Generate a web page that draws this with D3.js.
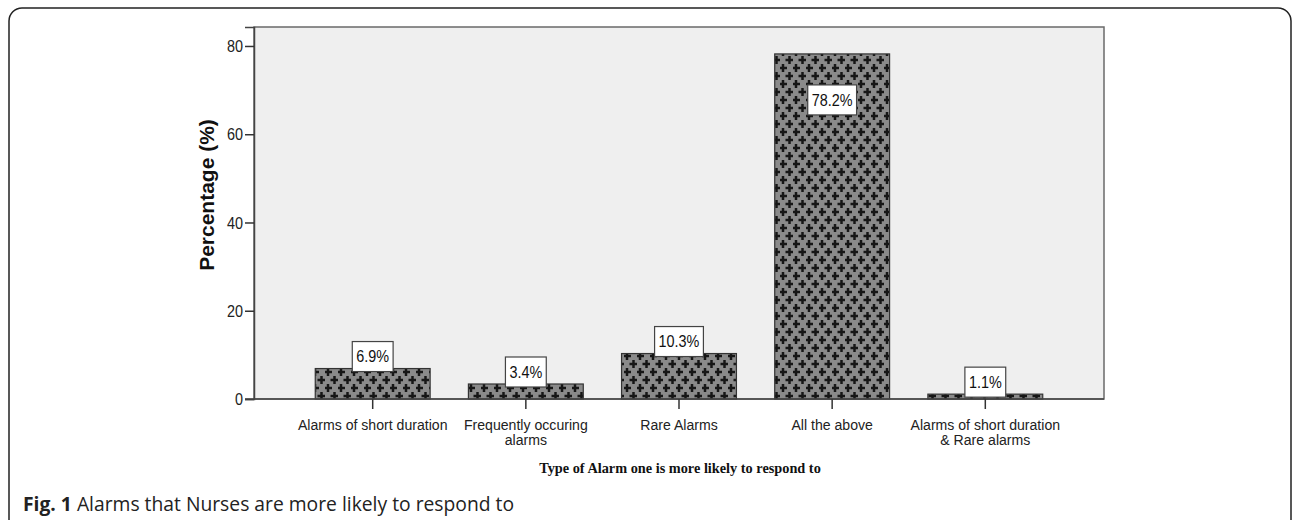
<!DOCTYPE html>
<html>
<head>
<meta charset="utf-8">
<script src="https://cdn.jsdelivr.net/npm/d3@7"></script>
<style>
  body { margin: 0; background: #fff; }
  svg { display: block; }
</style>
</head>
<body>
<div id="chart"></div>
<script>
// data
var categories = ["Alarms of short duration", "Frequently occuring alarms", "Rare Alarms", "All the above", "Alarms of short duration & Rare alarms"];
var labelLines = [["Alarms of short duration"], ["Frequently occuring", "alarms"], ["Rare Alarms"], ["All the above"], ["Alarms of short duration", "& Rare alarms"]];
var values = [6.9, 3.4, 10.3, 78.2, 1.1];
var yTicks = [0, 20, 40, 60, 80];

var W = 1292, H = 520;
var plot = {left: 254, right: 1104, top: 27, bottom: 399};
var narrowFont = "Liberation Sans, Arial, sans-serif";
var squeeze = 0.9; // fake a narrow face

var svg = d3.select("#chart").append("svg").attr("width", W).attr("height", H);

// outer frame
svg.append("rect")
  .attr("x", 9).attr("y", 8).attr("width", 1282).attr("height", 530)
  .attr("rx", 13).attr("ry", 13)
  .attr("fill", "none").attr("stroke", "#222").attr("stroke-width", 1.5);

// cross pattern
var defs = svg.append("defs");
var pat = defs.append("pattern")
  .attr("id", "cross").attr("patternUnits", "userSpaceOnUse")
  .attr("width", 13).attr("height", 16);
pat.append("rect").attr("width", 13).attr("height", 16).attr("fill", "#8a8a8a");
[[3, 4], [9.5, 12]].forEach(function(c) {
  pat.append("rect").attr("x", c[0] - 4).attr("y", c[1] - 1.25).attr("width", 8).attr("height", 2.5).attr("fill", "#161616");
  pat.append("rect").attr("x", c[0] - 1.25).attr("y", c[1] - 4).attr("width", 2.5).attr("height", 8).attr("fill", "#161616");
});

var x = d3.scaleBand().domain(categories)
  .range([plot.left, plot.right])
  .paddingInner(0.25).paddingOuter(0.4);
var y = d3.scaleLinear().domain([0, 84.3]).range([plot.bottom, plot.top]);

// plot background
svg.append("rect")
  .attr("x", plot.left).attr("y", plot.top)
  .attr("width", plot.right - plot.left).attr("height", plot.bottom - plot.top)
  .attr("fill", "#efefef").attr("stroke", "#6a6a6a").attr("stroke-width", 1.5);

// bars
svg.selectAll("rect.bar")
  .data(values)
  .enter().append("rect")
  .attr("class", "bar")
  .attr("x", function(d, i) { return x(categories[i]); })
  .attr("y", function(d) { return y(d); })
  .attr("width", x.bandwidth())
  .attr("height", function(d) { return y(0) - y(d); })
  .attr("fill", "url(#cross)")
  .attr("stroke", "#333").attr("stroke-width", 1.2);

// y axis
var yAxis = svg.append("g")
  .attr("transform", "translate(" + plot.left + ",0)")
  .call(d3.axisLeft(y).tickValues(yTicks).tickSize(9).tickFormat(""));
yAxis.select(".domain").attr("stroke", "#444").attr("stroke-width", 1.5);
yAxis.selectAll(".tick line").attr("stroke", "#333").attr("stroke-width", 1.5);
yAxis.selectAll(".tick").append("text")
  .attr("transform", "translate(-11,0) scale(" + squeeze + ",1)")
  .attr("text-anchor", "end").attr("dy", "0.36em")
  .attr("font-family", narrowFont).attr("font-size", 16).attr("fill", "#222")
  .text(function(d) { return d; });

// x axis
var xAxis = svg.append("g")
  .attr("transform", "translate(0," + plot.bottom + ")")
  .call(d3.axisBottom(x).tickSize(10).tickFormat(""));
xAxis.select(".domain").attr("stroke", "#444").attr("stroke-width", 1.5)
  .attr("d", "M" + (plot.left - 9) + ",0H" + plot.right);
xAxis.selectAll(".tick line").attr("stroke", "#333").attr("stroke-width", 1.5);

// x tick labels, one text per line
labelLines.forEach(function(lines, i) {
  var cx = x(categories[i]) + x.bandwidth() / 2;
  svg.selectAll(null)
    .data(lines)
    .enter().append("text")
    .attr("text-anchor", "middle")
    .attr("font-family", narrowFont).attr("font-size", 15).attr("fill", "#222")
    .attr("transform", function(d, k) {
      return "translate(" + cx + "," + (430 + k * 15) + ") scale(0.94,1)";
    })
    .text(function(d) { return d; });
});

// value labels
var lab = svg.selectAll("g.vlab")
  .data(values)
  .enter().append("g")
  .attr("class", "vlab")
  .attr("transform", function(d, i) {
    var cx = x(categories[i]) + x.bandwidth() / 2;
    var cy = d > 50 ? y(d) + 46 : y(d) - 12;
    return "translate(" + cx + "," + cy + ")";
  });
lab.append("text")
  .attr("transform", "scale(" + squeeze + ",1)")
  .attr("text-anchor", "middle").attr("dy", "0.36em")
  .attr("font-family", narrowFont).attr("font-size", 16).attr("fill", "#111")
  .text(function(d) { return d.toFixed(1) + "%"; });
lab.each(function() {
  var g = d3.select(this);
  var bb = g.select("text").node().getBBox();
  var w = bb.width * squeeze + 8;
  g.insert("rect", "text")
    .attr("x", -w / 2).attr("y", -15)
    .attr("width", w).attr("height", 30)
    .attr("fill", "#fff").attr("stroke", "#444").attr("stroke-width", 1.2);
});

// axis titles
svg.append("text")
  .attr("transform", "translate(214,195) rotate(-90)")
  .attr("text-anchor", "middle")
  .attr("font-family", "Liberation Sans, Arial, sans-serif")
  .attr("font-weight", "bold").attr("font-size", 21).attr("fill", "#111")
  .text("Percentage (%)");

svg.append("text")
  .attr("x", 680).attr("y", 473)
  .attr("text-anchor", "middle")
  .attr("font-family", "Liberation Serif, Times New Roman, serif")
  .attr("font-weight", "bold").attr("font-size", 14.3).attr("fill", "#111")
  .text("Type of Alarm one is more likely to respond to");

// caption
var cap = svg.append("text")
  .attr("x", 23).attr("y", 511)
  .attr("font-family", "Open Sans, sans-serif")
  .attr("font-size", 19.3).attr("fill", "#222");
cap.append("tspan").attr("font-weight", "bold").text("Fig. 1");
cap.append("tspan").text(" Alarms that Nurses are more likely to respond to");
</script>
</body>
</html>
